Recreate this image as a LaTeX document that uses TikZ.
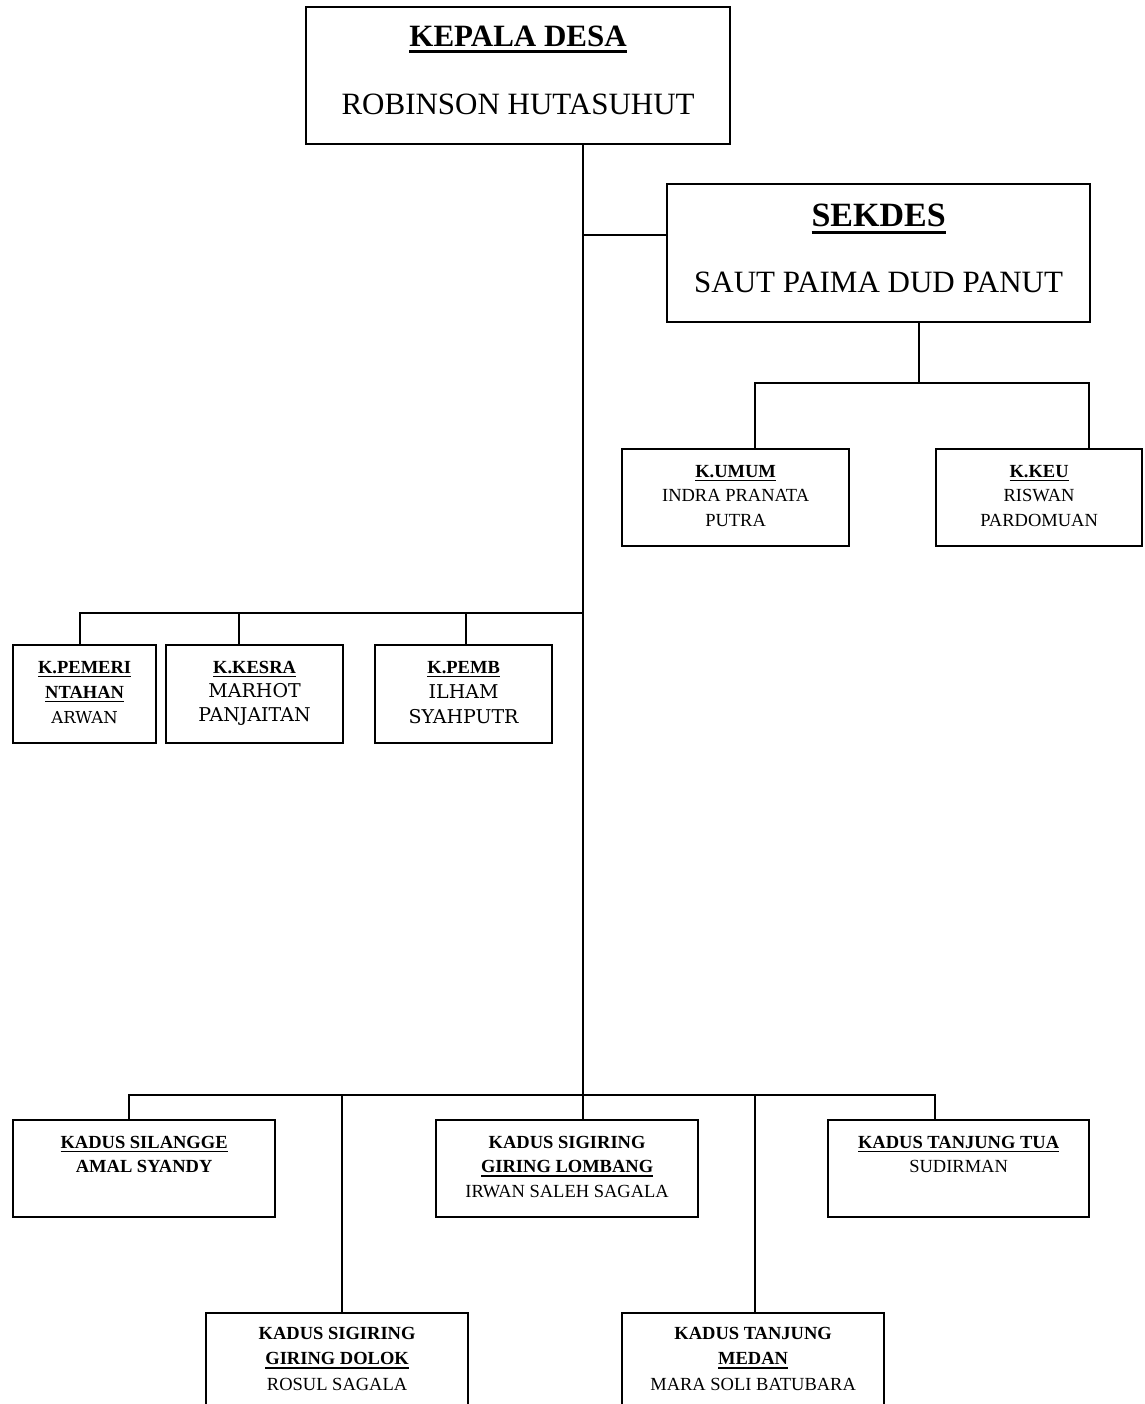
\documentclass[tikz,border=0pt]{standalone}
\usepackage{fontspec}
\setmainfont{Liberation Serif}
\newfontfamily\bukman{DejaVu Serif}
\usetikzlibrary{positioning}

\newsavebox{\kotakteks}
\newcommand{\garisbawah}[1]{\sbox{\kotakteks}{#1}\rlap{\rule[-0.2em]{\wd\kotakteks}{0.08em}}\usebox{\kotakteks}}
\newcommand{\namakiri}[1]{{\bukman\fontsize{19}{25}\selectfont #1}}

\tikzset{
 kotak/.style={draw, line width=2.2pt, inner sep=0pt, anchor=north west},
 isi/.style={inner sep=0pt, align=center, font=\fontsize{18.5}{24.5}\selectfont},
 garis/.style={line width=1.8pt, line cap=rect},
}

\begin{document}
\begin{tikzpicture}[x=1pt,y=-1pt]
\useasboundingbox (0,0) rectangle (1144,1404);

\node[kotak, minimum width=424pt, minimum height=137pt] (kades) at (305,6) {};
\node[kotak, minimum width=423pt, minimum height=138pt] (sekdes) at (666,183) {};
\node[kotak, minimum width=227pt, minimum height=97pt] (umum) at (621,448) {};
\node[kotak, minimum width=206pt, minimum height=97pt] (keu) at (935,448) {};
\node[kotak, minimum width=143pt, minimum height=98pt] (pemeri) at (12,644) {};
\node[kotak, minimum width=177pt, minimum height=98pt] (kesra) at (165,644) {};
\node[kotak, minimum width=177pt, minimum height=98pt] (pemb) at (374,644) {};
\node[kotak, minimum width=262pt, minimum height=97pt] (silangge) at (12,1119) {};
\node[kotak, minimum width=262pt, minimum height=97pt] (lombang) at (435,1119) {};
\node[kotak, minimum width=261pt, minimum height=97pt] (tua) at (827,1119) {};
\node[kotak, minimum width=262pt, minimum height=130pt] (dolok) at (205,1312) {};
\node[kotak, minimum width=262pt, minimum height=130pt] (medan) at (621,1312) {};

\node[isi, font=\fontsize{31}{68}\selectfont, below=20pt of kades.north] (kadesT)
  {{\bfseries\garisbawah{KEPALA DESA}}\\ROBINSON HUTASUHUT};
\node[isi, font=\fontsize{34}{40}\selectfont\bfseries, below=21pt of sekdes.north] (sekdesT)
  {\garisbawah{SEKDES}};
\node[isi, font=\fontsize{31}{40}\selectfont, below=89pt of sekdes.north] (sekdesN)
  {SAUT PAIMA DUD PANUT};

\node[isi, below=17pt of umum.north] (umumT)
  {{\bfseries\garisbawah{K.UMUM}}\\INDRA PRANATA\\PUTRA};
\node[isi, below=17pt of keu.north] (keuT)
  {{\bfseries\garisbawah{K.KEU}}\\RISWAN\\PARDOMUAN};

\node[isi, font=\fontsize{18.5}{25}\selectfont, below=17pt of pemeri.north] (pemeriT)
  {{\bfseries\garisbawah{K.PEMERI}}\\{\bfseries\garisbawah{NTAHAN}}\\{\bukman\fontsize{16.5}{25}\selectfont ARWAN}};
\node[isi, font=\fontsize{18.5}{24}\selectfont, below=17pt of kesra.north] (kesraT)
  {{\bfseries\garisbawah{K.KESRA}}\\\namakiri{MARHOT}\\\namakiri{PANJAITAN}};
\node[isi, font=\fontsize{18.5}{25}\selectfont, below=17pt of pemb.north] (pembT)
  {{\bfseries\garisbawah{K.PEMB}}\\\namakiri{ILHAM}\\\namakiri{SYAHPUTR}};

\node[isi, below=17pt of silangge.north] (silanggeT)
  {{\bfseries\garisbawah{KADUS SILANGGE}}\\{\bfseries AMAL SYANDY}};
\node[isi, below=17pt of lombang.north] (lombangT)
  {{\bfseries KADUS SIGIRING}\\{\bfseries\garisbawah{GIRING LOMBANG}}\\IRWAN SALEH SAGALA};
\node[isi, below=17pt of tua.north] (tuaT)
  {{\bfseries\garisbawah{KADUS TANJUNG TUA}}\\SUDIRMAN};
\node[isi, font=\fontsize{18.5}{25.5}\selectfont, below=15pt of dolok.north] (dolokT)
  {{\bfseries KADUS SIGIRING}\\{\bfseries\garisbawah{GIRING DOLOK}}\\ROSUL SAGALA};
\node[isi, font=\fontsize{18.5}{25.5}\selectfont, below=15pt of medan.north] (medanT)
  {{\bfseries KADUS TANJUNG}\\{\bfseries\garisbawah{MEDAN}}\\MARA SOLI BATUBARA};

\coordinate (tSek) at (583,235);
\coordinate (tKaur) at (583,613);
\coordinate (tKadus) at (583,1095);
\coordinate (tBagian) at (919,383);
\coordinate (xUmum) at (755,383);
\coordinate (xKeu) at (1089,383);
\coordinate (xPemeri) at (80,613);
\coordinate (xKesra) at (239,613);
\coordinate (xPemb) at (466,613);
\coordinate (xSilangge) at (129,1095);
\coordinate (xDolok) at (342,1095);
\coordinate (xMedan) at (755,1095);
\coordinate (xTua) at (935,1095);

\draw[garis] (kades.south -| tSek) -- (tKadus);
\draw[garis] (tSek) -- (tSek -| sekdes.west);
\draw[garis] (sekdes.south -| tBagian) -- (tBagian);
\draw[garis] (xUmum |- umum.north) -- (xUmum) -- (xKeu) -- (xKeu |- keu.north);
\draw[garis] (tKaur) -- (xPemeri) -- (xPemeri |- pemeri.north);
\draw[garis] (xKesra) -- (xKesra |- kesra.north);
\draw[garis] (xPemb) -- (xPemb |- pemb.north);
\draw[garis] (xSilangge) -- (xTua);
\foreach \x/\k in {xSilangge/silangge, xDolok/dolok, tKadus/lombang, xMedan/medan, xTua/tua}
  \draw[garis] (\x) -- (\x |- \k.north);
\end{tikzpicture}
\end{document}
